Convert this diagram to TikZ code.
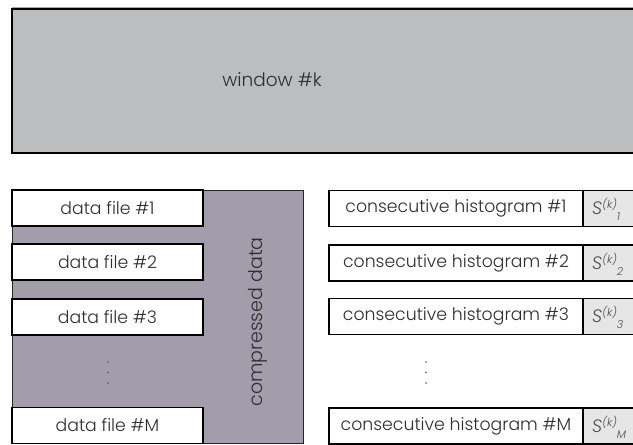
\documentclass[tikz,border=0pt]{standalone}
\usepackage{fontspec}
\setmainfont{Poppins Light}
\definecolor{winfill}{HTML}{BCBDBF}
\definecolor{cmpfill}{HTML}{A39CAB}
\definecolor{sfill}{HTML}{E6E6E6}
\definecolor{txt}{HTML}{2E2E2E}
\definecolor{stxt}{HTML}{505050}
\newcommand{\skval}[1]{{\itshape S\raisebox{6pt}{\fontsize{11}{11}\selectfont (k)}\raisebox{-6pt}{\fontsize{11}{11}\selectfont #1}}}
\tikzset{
  labelfont/.style={font=\fontsize{17.3}{19}\selectfont},
  filebox/.style={draw=black, line width=1.8pt, fill=white, minimum width=191pt, minimum height=36pt,
    inner sep=0pt, outer sep=0pt, labelfont, text=txt},
  histbox/.style={draw=black, line width=1.8pt, fill=white, minimum width=254pt, minimum height=36pt,
    inner sep=0pt, outer sep=0pt, labelfont, text=txt},
  sbox/.style={draw=black, line width=1.8pt, fill=sfill, minimum width=67pt, minimum height=36pt,
    inner sep=0pt, outer sep=0pt},
  stext/.style={anchor=west, inner sep=0pt, text=stxt, font=\fontsize{18}{20}\selectfont},
  dotmark/.style={fill=txt!80},
}
\begin{document}
\begin{tikzpicture}[x=1pt, y=-1pt]
  \useasboundingbox (0,0) rectangle (633,445);
  \clip (0,0) rectangle (633,445);

  % window
  \draw[gray!70, line width=1pt] (12,7) -- (650,7);
  \node[draw=black, line width=2.2pt, fill=winfill, minimum width=640pt, minimum height=144pt,
        inner sep=0pt, outer sep=0pt] (win) at (332,81) {};
  \node[text=txt, font=\fontsize{18.5}{20}\selectfont] (wintext) at (272,80) {window \#k};

  % compressed data block
  \node[draw=black!85, line width=0.8pt, fill=cmpfill, minimum width=291pt, minimum height=253pt,
        inner sep=0pt, outer sep=0pt] (cmp) at (157.5,316.5) {};
  \node[rotate=90, text=txt, font=\fontsize{19}{21}\selectfont] (cmptext) at (258,322) {compressed data};

  % data files
  \node[filebox] (f1) at (107.5,208) {data file \#1};
  \node[filebox] (f2) at (107.5,262) {data file \#2};
  \node[filebox] (f3) at (107.5,317) {data file \#3};
  \node[filebox] (fM) at (107.5,425.5) {data file \#M};
  \foreach \yy in {362,372.5,383} \fill[dotmark] (108,\yy) circle (0.85pt);

  % consecutive histograms
  \node[histbox] (h1) at (456,208.5) {consecutive histogram \#1};
  \node[histbox] (h2) at (456,263) {consecutive histogram \#2};
  \node[histbox] (h3) at (456,316.5) {consecutive histogram \#3};
  \node[histbox] (hM) at (456,426) {consecutive histogram \#M};
  \foreach \yy in {362,372.5,383} \fill[dotmark] (426,\yy) circle (0.85pt);

  % S values
  \node[sbox, anchor=west] (s1) at (h1.east) {};
  \node[sbox, anchor=west] (s2) at (h2.east) {};
  \node[sbox, anchor=west] (s3) at (h3.east) {};
  \node[sbox, anchor=west] (sM) at (hM.east) {};
  \node[stext] (s1t) at ([xshift=9pt,yshift=-1pt]s1.west) {\skval{1}};
  \node[stext] (s2t) at ([xshift=9pt,yshift=-1pt]s2.west) {\skval{2}};
  \node[stext] (s3t) at ([xshift=9pt,yshift=-1pt]s3.west) {\skval{3}};
  \node[stext] (sMt) at ([xshift=9pt,yshift=-1pt]sM.west) {\skval{M}};
\end{tikzpicture}
\end{document}
